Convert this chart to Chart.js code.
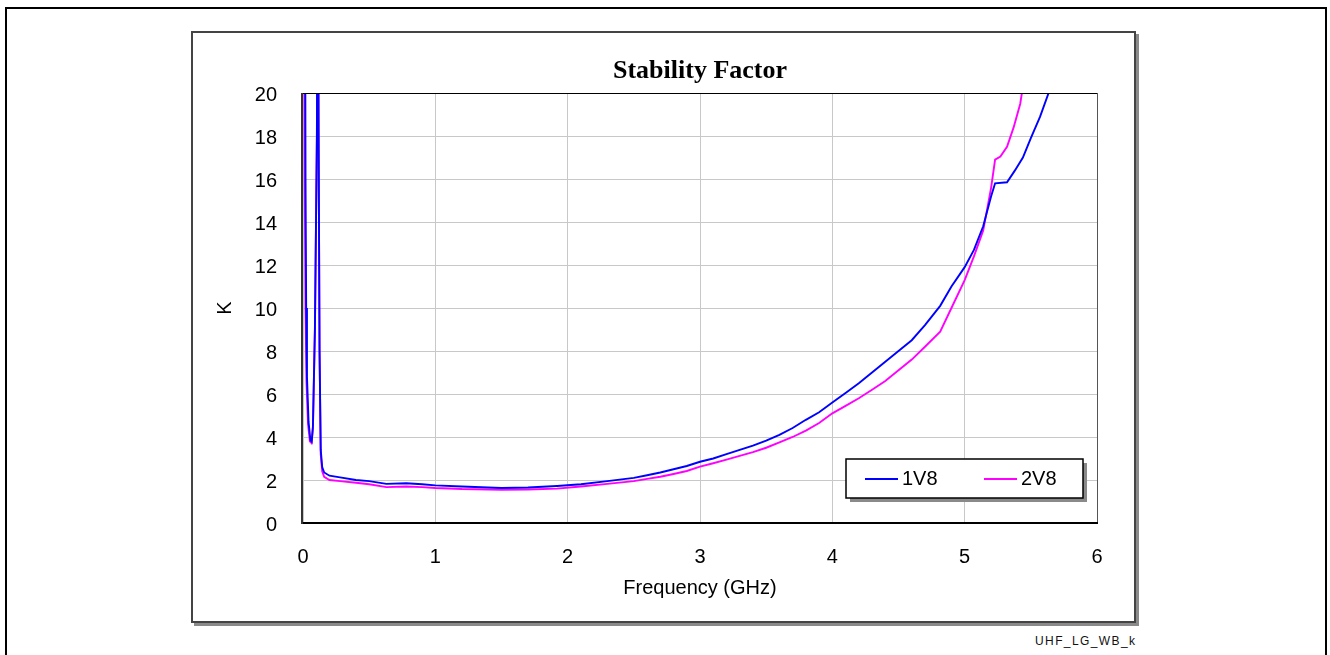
<!DOCTYPE html>
<html>
<head>
<meta charset="utf-8">
<script src="https://cdn.jsdelivr.net/npm/chart.js@4.4.1/dist/chart.umd.min.js"></script>
<style>
  html, body { margin: 0; padding: 0; background: #fff; width: 1330px; height: 655px; overflow: hidden; position: relative; }
  #page { position: absolute; left: 5px; top: 7px; width: 1322px; height: 700px; border: 2px solid #000; box-sizing: border-box; }
  #panel { position: absolute; left: 191px; top: 31px; width: 945px; height: 592px; border: 2px solid #444; box-sizing: border-box; box-shadow: 3px 3px 0 #8a8a8a; background: #fff; }
  #tag { position: absolute; left: 1035px; top: 634px; font: 12px "Liberation Sans", Arial, sans-serif; letter-spacing: 1.4px; color: #111; }
  #chart { position: absolute; left: 0; top: 0; }
</style>
</head>
<body>
<div id="page"></div>
<div id="panel"></div>
<div id="tag">UHF_LG_WB_k</div>
<canvas id="chart" width="1330" height="655"></canvas>
<script>
// Stability factor K versus frequency for two bias conditions
const chartTitle = 'Stability Factor';
const xAxisTitle = 'Frequency (GHz)';
const yAxisTitle = 'K';
const seriesNames = ['1V8', '2V8'];
const seriesColors = ['#0000ff', '#ff00ff'];

const freq1V8 = [0.014, 0.019, 0.024, 0.03, 0.042, 0.056, 0.066, 0.075, 0.09, 0.105, 0.112, 0.118, 0.125, 0.134, 0.145, 0.16, 0.2, 0.28, 0.4, 0.5, 0.63, 0.78, 0.9, 1.0, 1.2, 1.5, 1.7, 1.92, 2.1, 2.3, 2.5, 2.6, 2.7, 2.8, 2.9, 3.0, 3.1, 3.2, 3.3, 3.4, 3.5, 3.6, 3.7, 3.8, 3.9, 4.0, 4.1, 4.2, 4.3, 4.4, 4.5, 4.6, 4.7, 4.815, 4.9, 5.0, 5.07, 5.14, 5.2, 5.23, 5.32, 5.38, 5.44, 5.5, 5.57, 5.64, 5.7];
const k1V8 = [30, 16, 10, 6.8, 4.7, 3.85, 3.78, 4.5, 9, 18, 30, 18, 8, 3.4, 2.6, 2.35, 2.2, 2.12, 2.0, 1.95, 1.82, 1.85, 1.8, 1.75, 1.7, 1.63, 1.65, 1.72, 1.8, 1.95, 2.1, 2.22, 2.35, 2.5, 2.65, 2.85, 3.0, 3.2, 3.4, 3.6, 3.83, 4.1, 4.42, 4.8, 5.15, 5.6, 6.05, 6.5, 7.0, 7.5, 8.0, 8.5, 9.2, 10.1, 11.0, 11.9, 12.7, 13.8, 15.2, 15.8, 15.85, 16.4, 17.0, 17.9, 18.9, 20.1, 21];

const freq2V8 = [0.008, 0.013, 0.019, 0.026, 0.038, 0.052, 0.064, 0.075, 0.09, 0.105, 0.112, 0.118, 0.125, 0.134, 0.145, 0.16, 0.2, 0.28, 0.4, 0.5, 0.63, 0.78, 0.9, 1.0, 1.2, 1.5, 1.7, 1.92, 2.1, 2.3, 2.5, 2.6, 2.7, 2.8, 2.9, 3.0, 3.1, 3.2, 3.3, 3.4, 3.5, 3.6, 3.7, 3.8, 3.9, 4.0, 4.1, 4.2, 4.3, 4.4, 4.5, 4.6, 4.7, 4.815, 4.9, 5.0, 5.07, 5.14, 5.2, 5.23, 5.27, 5.32, 5.37, 5.42, 5.44, 5.47];
const k2V8 = [30, 16, 10, 6.6, 4.6, 3.8, 3.72, 4.4, 9, 18, 30, 18, 8, 3.2, 2.4, 2.15, 2.0, 1.95, 1.87, 1.8, 1.67, 1.7, 1.67, 1.63, 1.58, 1.55, 1.56, 1.6, 1.7, 1.82, 1.95, 2.05, 2.15, 2.28, 2.42, 2.62, 2.78, 2.95, 3.12, 3.3, 3.5, 3.75, 4.0, 4.3, 4.65, 5.1, 5.45, 5.8, 6.2, 6.6, 7.1, 7.6, 8.2, 8.9, 10.0, 11.3, 12.4, 13.6, 15.6, 16.9, 17.04, 17.5, 18.4, 19.5, 20.3, 21.5];

const xRange = [0, 6];
const yRange = [0, 20];
const xStep = 1;
const yStep = 2;

const pairs = (xs, ys) => xs.map((x, i) => ({ x: x, y: ys[i] }));

const labelFont = { family: '"Liberation Sans", Arial, sans-serif', size: 20 };

// Title, plot frame and in-plot legend box
const decorations = {
  id: 'decorations',
  afterDatasetsDraw(chart) {
    const { ctx, chartArea: a } = chart;
    ctx.save();
    // plot frame
    ctx.lineWidth = 1;
    ctx.strokeStyle = '#000';
    ctx.beginPath(); ctx.moveTo(a.left, a.top + 0.5); ctx.lineTo(a.right, a.top + 0.5); ctx.stroke();
    ctx.strokeStyle = '#555';
    ctx.beginPath(); ctx.moveTo(a.right + 0.5, a.top); ctx.lineTo(a.right + 0.5, a.bottom); ctx.stroke();
    ctx.lineWidth = 2;
    ctx.strokeStyle = '#000';
    ctx.beginPath(); ctx.moveTo(a.left - 1, a.bottom); ctx.lineTo(a.right + 1, a.bottom); ctx.stroke();
    ctx.strokeStyle = '#333';
    ctx.beginPath(); ctx.moveTo(a.left - 1, a.top); ctx.lineTo(a.left - 1, a.bottom + 1); ctx.stroke();

    // title
    ctx.fillStyle = '#000';
    ctx.font = 'bold 26px "Liberation Serif", "Times New Roman", serif';
    ctx.textAlign = 'center';
    ctx.textBaseline = 'alphabetic';
    ctx.fillText(chartTitle, (a.left + a.right) / 2, 78);

    // legend
    const lx = 846, ly = 459, lw = 237, lh = 39;
    ctx.fillStyle = '#8a8a8a';
    ctx.fillRect(lx + 4, ly + 4, lw, lh);
    ctx.fillStyle = '#fff';
    ctx.fillRect(lx, ly, lw, lh);
    ctx.lineWidth = 1.5;
    ctx.strokeStyle = '#000';
    ctx.strokeRect(lx, ly, lw, lh);
    ctx.font = '20px "Liberation Sans", Arial, sans-serif';
    ctx.textAlign = 'left';
    ctx.textBaseline = 'middle';
    const cy = ly + lh / 2 + 0.5;
    chart.data.datasets.forEach((ds, i) => {
      const x0 = lx + 19 + i * 119;
      ctx.strokeStyle = ds.borderColor;
      ctx.lineWidth = 1.8;
      ctx.beginPath(); ctx.moveTo(x0, cy); ctx.lineTo(x0 + 33, cy); ctx.stroke();
      ctx.fillStyle = '#000';
      ctx.fillText(ds.label, x0 + 37, cy);
    });
    ctx.restore();
  }
};

new Chart(document.getElementById('chart'), {
  type: 'scatter',
  data: {
    datasets: [
      { label: seriesNames[0], data: pairs(freq1V8, k1V8), borderColor: seriesColors[0], backgroundColor: seriesColors[0] },
      { label: seriesNames[1], data: pairs(freq2V8, k2V8), borderColor: seriesColors[1], backgroundColor: seriesColors[1] }
    ]
  },
  options: {
    responsive: false,
    animation: false,
    showLine: true,
    elements: {
      line: { borderWidth: 1.9, tension: 0, fill: false },
      point: { radius: 0, hoverRadius: 0 }
    },
    layout: { padding: { left: 205, top: 93, right: 233, bottom: 55 } },
    plugins: {
      legend: { display: false },
      title: { display: false },
      tooltip: { enabled: false }
    },
    scales: {
      x: {
        type: 'linear',
        min: xRange[0], max: xRange[1],
        afterFit(scale) { scale.height = 77; },
        ticks: { stepSize: xStep, color: '#000', font: labelFont, padding: 22, maxRotation: 0 },
        grid: { color: '#c8c8c8', lineWidth: 1, drawTicks: false },
        border: { display: false },
        title: { display: true, text: xAxisTitle, color: '#000', font: labelFont, padding: { top: 0, bottom: 0 } }
      },
      y: {
        type: 'linear',
        min: yRange[0], max: yRange[1],
        afterFit(scale) { scale.width = 98; },
        ticks: { stepSize: yStep, color: '#000', font: labelFont, padding: 26, labelOffset: 2 },
        grid: { color: '#c8c8c8', lineWidth: 1, drawTicks: false },
        border: { display: false },
        title: { display: true, text: yAxisTitle, color: '#000', font: labelFont, padding: { top: 8, bottom: 0 } }
      }
    }
  },
  plugins: [decorations]
});
</script>
</body>
</html>
